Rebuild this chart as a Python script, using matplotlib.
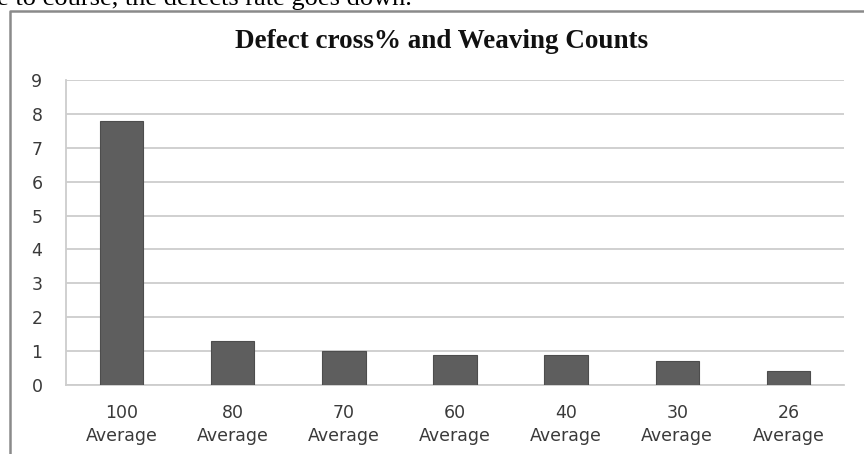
import matplotlib
matplotlib.use("Agg")
import matplotlib.pyplot as plt
from matplotlib.lines import Line2D

# Weaving counts and the average cross-defect percentage for each
counts = ["100", "80", "70", "60", "40", "30", "26"]
defect_pct = [7.8, 1.3, 1.0, 0.9, 0.9, 0.7, 0.4]
y_ticks = list(range(0, 10))
x_labels = [f"{c}\nAverage" for c in counts]

W, H, DPI = 864, 454, 100
fig = plt.figure(figsize=(W / DPI, H / DPI), dpi=DPI)
fig.patch.set_facecolor("white")

# surrounding document line, partly cut by the top edge
fig.text(-3 / W, 1 - 5 / H, "e to course, the defects rate goes down.",
         family="Liberation Serif", fontsize=19, color="black",
         ha="left", va="baseline")

# chart frame (left and top edges)
frame_c = "#8a8a8a"
fig.add_artist(Line2D([10 / W, 10 / W, 1.0], [0.0, 1 - 11 / H, 1 - 11 / H],
                      transform=fig.transFigure, color=frame_c, lw=1.8))

ax = fig.add_axes([66 / W, (H - 385) / H, (844 - 66) / W, (385 - 80) / H])
x = range(len(counts))
ax.bar(x, defect_pct, width=0.39, color="#5e5e5e", edgecolor="#4d4d4d",
       linewidth=0.8, zorder=3)

ax.set_xlim(-0.5, len(counts) - 0.5)
ax.set_ylim(0, 9)
ax.set_yticks(y_ticks)
ax.set_yticklabels([str(v) for v in y_ticks])
ax.set_xticks(list(x))
ax.set_xticklabels(x_labels, linespacing=1.35)

grid_c = "#cdcdcd"
ax.yaxis.grid(True, color=grid_c, lw=1.3, zorder=0)
ax.set_axisbelow(True)
for s in ["top", "right"]:
    ax.spines[s].set_visible(False)
for s in ["left", "bottom"]:
    ax.spines[s].set_color(grid_c)
    ax.spines[s].set_linewidth(1.3)

tick_font = dict(family="DejaVu Sans", size=12.5, color="#3a3a3a")
ax.tick_params(axis="both", length=0)
ax.tick_params(axis="y", pad=17)
ax.tick_params(axis="x", pad=14)
for lab in ax.get_xticklabels() + ax.get_yticklabels():
    lab.set_fontfamily(tick_font["family"])
    lab.set_fontsize(tick_font["size"])
    lab.set_color(tick_font["color"])

fig.text(442 / W, 1 - 48 / H, "Defect cross% and Weaving Counts",
         family="Liberation Serif", fontweight="bold", fontsize=19.5,
         color="#111111", ha="center", va="baseline")

fig.savefig("out.png", dpi=DPI, facecolor="white")
